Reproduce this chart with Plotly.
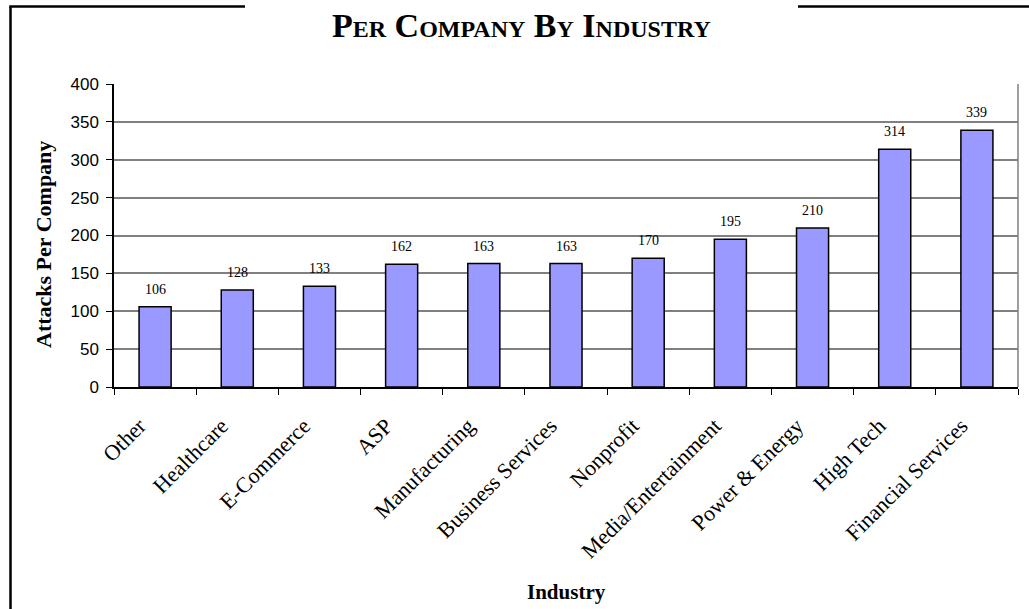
import plotly.graph_objects as go

categories = ["Other", "Healthcare", "E-Commerce", "ASP", "Manufacturing",
              "Business Services", "Nonprofit", "Media/Entertainment",
              "Power & Energy", "High Tech", "Financial Services"]
values = [106, 128, 133, 162, 163, 163, 170, 195, 210, 314, 339]
y_ticks = [0, 50, 100, 150, 200, 250, 300, 350, 400]

W, H = 1029, 609
L, R, T, B = 114, 1018, 84, 387


def px(x):
    return (x - L) / (R - L)


def py(y):
    return (B - y) / (B - T)


fig = go.Figure()
fig.add_trace(go.Bar(
    x=categories, y=values, width=0.39,
    marker=dict(color="#9999FF", line=dict(color="black", width=1.5)),
    hoverinfo="x+y",
))

annotations = []
for c, v in zip(categories, values):
    annotations.append(dict(
        x=c, y=v, xref="x", yref="y", text=str(v), showarrow=False,
        yanchor="bottom", yshift=8,
        font=dict(family="Liberation Serif", size=14, color="black"),
    ))

annotations.append(dict(
    x=px(521), y=py(25.5), xref="paper", yref="paper",
    text="Per Company By Industry", showarrow=False,
    xanchor="center", yanchor="middle",
    font=dict(family="Liberation Serif", size=34, color="black",
              weight="bold", variant="small-caps"),
))
annotations.append(dict(
    x=0.5, y=py(592), xref="paper", yref="paper",
    text="<b>Industry</b>", showarrow=False,
    xanchor="center", yanchor="middle",
    font=dict(family="Liberation Serif", size=21, color="black"),
))
annotations.append(dict(
    x=px(43), y=py(245), xref="paper", yref="paper",
    text="<b>Attacks Per Company</b>", showarrow=False, textangle=-90,
    xanchor="center", yanchor="middle",
    font=dict(family="Liberation Serif", size=22, color="black"),
))

border = dict(color="black", width=2.5)
shapes = [
    dict(type="line", xref="paper", yref="paper", x0=px(10.5), x1=px(10.5),
         y0=py(6.5), y1=py(612), line=border),
    dict(type="line", xref="paper", yref="paper", x0=px(9.3), x1=px(245),
         y0=py(6.5), y1=py(6.5), line=border),
    dict(type="line", xref="paper", yref="paper", x0=px(798), x1=px(1032),
         y0=py(6.5), y1=py(6.5), line=border),
    dict(type="line", xref="paper", yref="paper", x0=1, x1=1,
         y0=0, y1=1, line=dict(color="#808080", width=1.5)),
]

pad = "\u00a0" * 4

fig.update_layout(
    width=W, height=H,
    margin=dict(l=L, r=W - R, t=T, b=H - B),
    paper_bgcolor="white", plot_bgcolor="white",
    showlegend=False,
    annotations=annotations, shapes=shapes,
    bargap=0.61,
)
fig.update_xaxes(
    type="category", tickangle=-45, tickson="boundaries",
    tickmode="array", tickvals=categories,
    ticktext=[c + pad for c in categories],
    ticks="outside", ticklen=6, tickcolor="black", tickwidth=1,
    showline=True, linecolor="black", linewidth=1.5,
    showgrid=False,
    tickfont=dict(family="Liberation Serif", size=22, color="black"),
)
fig.update_yaxes(
    range=[0, 400], tickvals=y_ticks, ticktext=[str(t) for t in y_ticks],
    ticks="outside", ticklen=6, tickcolor="black", tickwidth=1,
    showline=True, linecolor="black", linewidth=1.5,
    showgrid=True, gridcolor="#808080", gridwidth=1.5,
    zeroline=False,
    tickfont=dict(family="Liberation Sans", size=17, color="black"),
    ticklabelstandoff=4,
)

fig.write_html("out.html", config={"displayModeBar": False},
               post_script="document.body.style.margin='0';document.body.style.overflow='hidden';")
